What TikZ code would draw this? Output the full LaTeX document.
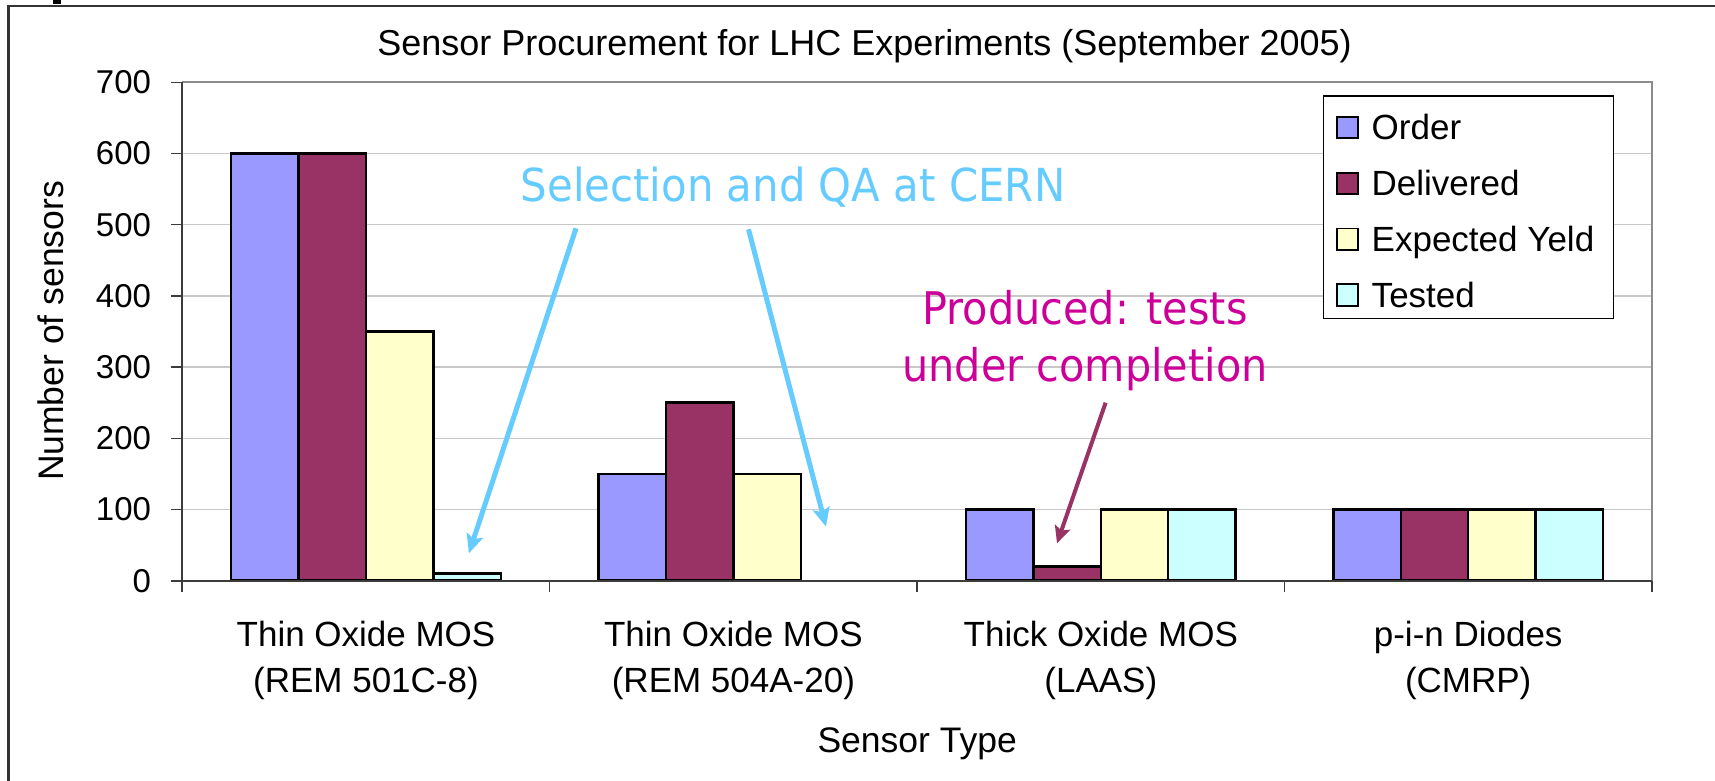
\documentclass[tikz,border=0pt]{standalone}
\usepackage{fontspec}
\setmainfont{Liberation Sans}
\newfontfamily\annfont[FakeStretch=0.92]{DejaVu Sans}
\usetikzlibrary{arrows.meta}
\definecolor{cOrder}{HTML}{9999FF}
\definecolor{cDeliv}{HTML}{993366}
\definecolor{cExpect}{HTML}{FFFFCC}
\definecolor{cTested}{HTML}{CCFFFF}
\definecolor{cGrid}{HTML}{C8C8C8}
\definecolor{cBorder}{HTML}{8C8C8C}
\definecolor{cAxis}{HTML}{3C3C3C}
\definecolor{cFrame}{HTML}{333333}
\definecolor{cSel}{HTML}{66CCFF}
\definecolor{cProd}{HTML}{CC0099}
\begin{document}
\begin{tikzpicture}[x=1pt,y=-1pt,
  txt/.style={inner sep=0pt, outer sep=0pt},
  ticklbl/.style={txt, anchor=east, font=\fontsize{33}{40}\selectfont},
  catlbl/.style={txt, anchor=north, align=center, font=\fontsize{35}{46.3}\selectfont},
  ttl/.style={txt, font=\fontsize{36}{43}\selectfont},
  axttl/.style={txt, font=\fontsize{35.5}{43}\selectfont},
  leglbl/.style={txt, anchor=base west, font=\fontsize{35}{42}\selectfont},
  barbox/.style={draw=black, line width=2.5pt},
  legmark/.style={draw=black, line width=1.9pt},
  grid line/.style={draw=cGrid, line width=1.5pt},
  selarrow/.style={draw=cSel, line width=5pt, -{Stealth[length=19pt,width=17pt,inset=4pt]}},
  prodarrow/.style={draw=cDeliv, line width=4pt, -{Stealth[length=17pt,width=16pt,inset=3.5pt]}},
]
\useasboundingbox (0,0) rectangle (1715,781);
% outer frame (partly cut off)
\draw[cFrame, line width=2.2pt] (8.4,781) -- (8.4,6) -- (1715,6);
\fill[black] (53,0) rectangle (60.5,4);
% gridlines
\foreach \v in {1,...,6} \draw[grid line] (182.3,{580.7-71.2*\v}) -- (1652,{580.7-71.2*\v});
% bars: category, series, value
\foreach \c/\s/\v/\col in {0/0/600/cOrder,0/1/600/cDeliv,0/2/350/cExpect,0/3/10/cTested,
  1/0/150/cOrder,1/1/250/cDeliv,1/2/150/cExpect,
  2/0/100/cOrder,2/1/20/cDeliv,2/2/100/cExpect,2/3/100/cTested,
  3/0/100/cOrder,3/1/100/cDeliv,3/2/100/cExpect,3/3/100/cTested}
  \filldraw[barbox, fill=\col] ({231.2+367.4*\c+67.4*\s},580.7) rectangle ({231.2+367.4*\c+67.4*(\s+1)},{580.7-0.712*\v});
% plot border
\draw[cBorder, line width=2.4pt] (182.3,82.3) -- (1652,82.3) -- (1652,580.7);
% axes
\draw[cAxis, line width=1.8pt] (182.3,592.3) -- (182.3,82.3);
\draw[cAxis, line width=1.8pt] (170.7,580.7) -- (1652,580.7);
\foreach \v in {0,...,7} \draw[cAxis, line width=1.5pt] (170.7,{580.7-71.2*\v}) -- (182.3,{580.7-71.2*\v});
\foreach \k in {0,...,4} \draw[cAxis, line width=1.5pt] ({182.3+367.4*\k},580.7) -- ({182.3+367.4*\k},592.3);
% tick labels
\foreach \v in {0,...,7} \node[ticklbl] (yl\v) at (151,{580.7-71.2*\v}) {\the\numexpr\v*100\relax};
% category labels
\node[catlbl] (cat1) at (366,620.8) {Thin Oxide MOS\\(REM 501C-8)};
\node[catlbl] (cat2) at (733.4,620.8) {Thin Oxide MOS\\(REM 504A-20)};
\node[catlbl] (cat3) at (1100.8,620.8) {Thick Oxide MOS\\(LAAS)};
\node[catlbl] (cat4) at (1468.2,621.2) {p-i-n Diodes\\(CMRP)};
% titles
\node[ttl, anchor=base] (title) at (864.5,56) {Sensor Procurement for LHC Experiments (September 2005)};
\node[axttl, anchor=base] (xtitle) at (917.2,752.7) {Sensor Type};
\node[axttl, anchor=base, rotate=90] (ytitle) at (63,331) {Number of sensors};
% legend
\draw[black, line width=1.6pt, fill=white] (1323.3,96) rectangle (1613.3,318.3);
\foreach \i/\col/\t in {0/cOrder/Order,1/cDeliv/Delivered,2/cExpect/Expected Yeld,3/cTested/Tested}{
  \filldraw[legmark, fill=\col] (1336.7,{116.7+55.9*\i}) rectangle (1358.3,{138.3+55.9*\i});
  \node[leglbl] (leg\i) at (1371.7,{139.6+55.9*\i}) {\t};
}
% annotations
\node[txt, anchor=base, text=cSel, font=\annfont\fontsize{45.5}{55}\selectfont] (sel) at (793,201.7) {Selection and QA at CERN};
\node[txt, anchor=north, align=center, text=cProd, font=\annfont\fontsize{45}{57.7}\selectfont] (prod) at (1085,290) {Produced: tests\\under completion};
\coordinate (s1) at (576,228.3);
\coordinate (t1) at (468.9,553.3);
\coordinate (s2) at (748.5,229.3);
\coordinate (t2) at (826,526.7);
\coordinate (s3) at (1105.6,402.7);
\coordinate (t3) at (1057,543.3);
\draw[selarrow] (s1) -- (t1);
\draw[selarrow] (s2) -- (t2);
\draw[prodarrow] (s3) -- (t3);
\end{tikzpicture}
\end{document}
